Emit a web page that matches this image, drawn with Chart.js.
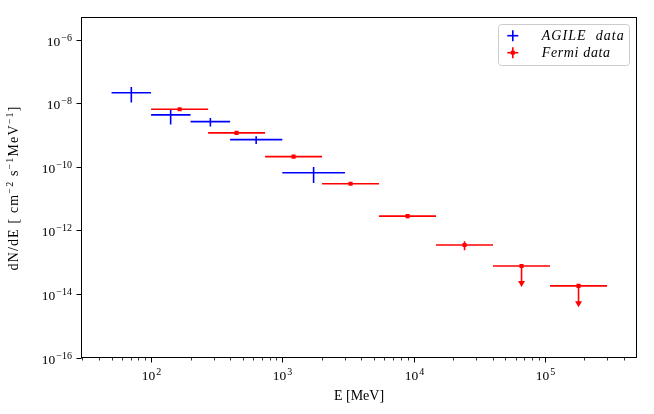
<!DOCTYPE html>
<html>
<head>
<meta charset="utf-8">
<script src="https://cdn.jsdelivr.net/npm/chart.js@4.4.1/dist/chart.umd.min.js"></script>
<style>
  body { margin: 0; background: #fff; }
  #wrap { width: 654px; height: 414px; }
</style>
</head>
<body>
<div id="wrap"><canvas id="sedChart" width="654" height="414"></canvas></div>
<script>
// AGILE points (MeV, cm^-2 s^-1 MeV^-1)
const agileE    = [70.7, 141, 283, 632, 1732];
const agileELo  = [50, 100, 200, 400, 1000];
const agileEHi  = [100, 200, 400, 1000, 3000];
const agileFlux = [2.15e-8, 4.3e-9, 2.65e-9, 7.2e-10, 6.5e-11];
const agileErr  = [1.1e-8, 2.15e-9, 0.8e-9, 2.0e-10, 3.4e-11];

// Fermi points, the last two are upper limits
const fermiE    = [165, 448, 1218, 3312, 9003, 24473, 66524, 180829];
const fermiELo  = [100, 272, 739, 2009, 5460, 14841, 40343, 109663];
const fermiEHi  = [272, 739, 2009, 5460, 14841, 40343, 109663, 298096];
const fermiFlux = [6.45e-9, 1.17e-9, 2.1e-10, 2.92e-11, 2.82e-12, 3.47e-13, 7.6e-14, 1.8e-14];
const fermiErr  = [0.4e-9, 0.08e-9, 0.12e-10, 0.2e-11, 0.4e-12, 1.1e-13, 0, 0];
const fermiLimitEnd = [null, null, null, null, null, null, 2.2e-14, 5.1e-15];

// axis ticks
const xTickValues = [1e2, 1e3, 1e4, 1e5];
const xTickExp    = ['2', '3', '4', '5'];
const yTickValues = [1e-16, 1e-14, 1e-12, 1e-10, 1e-8, 1e-6];
const yTickExp    = ['\u221216', '\u221214', '\u221212', '\u221210', '\u22128', '\u22126'];

const BLUE = '#0000ff';
const RED = '#ff0000';
const FAMILY = '"Liberation Serif", "DejaVu Serif", serif';

function seg(p, q, color) {
  return { data: [p, q], showLine: true, borderColor: color, borderWidth: 1.6,
           pointRadius: 0, pointHoverRadius: 0, fill: false, tension: 0 };
}

const datasets = [];
// markers first so they sit on top
datasets.push({
  label: 'Fermi data',
  data: fermiE.map((e, i) => ({ x: e, y: fermiFlux[i] })),
  pointStyle: 'rect', pointRadius: 2.9, pointBorderWidth: 0,
  backgroundColor: RED, borderColor: RED
});
datasets.push({
  label: 'AGILE data',
  data: agileE.map((e, i) => ({ x: e, y: agileFlux[i] })),
  pointRadius: 0, backgroundColor: BLUE, borderColor: BLUE
});

fermiE.forEach((e, i) => {
  const f = fermiFlux[i];
  datasets.push(seg({ x: fermiELo[i], y: f }, { x: fermiEHi[i], y: f }, RED));
  if (fermiLimitEnd[i]) {
    datasets.push({
      data: [{ x: e, y: f }, { x: e, y: fermiLimitEnd[i] }],
      showLine: true, borderColor: RED, borderWidth: 1.6,
      pointRadius: [0, 4], pointStyle: 'triangle', rotation: 180,
      pointBorderWidth: 0, backgroundColor: RED
    });
  } else if (fermiErr[i] > 0) {
    datasets.push(seg({ x: e, y: f - fermiErr[i] }, { x: e, y: f + fermiErr[i] }, RED));
  }
});

agileE.forEach((e, i) => {
  const f = agileFlux[i];
  datasets.push(seg({ x: agileELo[i], y: f }, { x: agileEHi[i], y: f }, BLUE));
  datasets.push(seg({ x: e, y: f - agileErr[i] }, { x: e, y: f + agileErr[i] }, BLUE));
});

// "10" with a raised exponent
function drawPow(ctx, exp, x, y, align) {
  const base = '13.5px ' + FAMILY, sup = '10px ' + FAMILY;
  ctx.font = base; const wb = ctx.measureText('10').width;
  ctx.font = sup;  const we = ctx.measureText(exp).width + 1;
  const x0 = align === 'right' ? x - wb - we : x - (wb + we) / 2;
  ctx.textAlign = 'left'; ctx.textBaseline = 'alphabetic';
  ctx.font = base; ctx.fillText('10', x0, y);
  ctx.font = sup;  ctx.fillText(exp, x0 + wb + 1, y - 5.5);
}

// text pieces with optional superscripts, stretched to a given length
function drawRich(ctx, parts, x, y, length) {
  const fonts = { n: '14px ' + FAMILY, s: '10px ' + FAMILY };
  ctx.letterSpacing = '0px';
  let nat = 0, chars = 0;
  parts.forEach(p => { ctx.font = fonts[p[1]]; nat += ctx.measureText(p[0]).width; chars += p[0].length; });
  const ls = Math.max(0, (length - nat) / chars);
  ctx.letterSpacing = ls + 'px';
  let cx = x;
  ctx.textAlign = 'left'; ctx.textBaseline = 'alphabetic';
  parts.forEach(p => {
    ctx.font = fonts[p[1]];
    ctx.fillText(p[0], cx, p[1] === 's' ? y - 5.5 : y);
    cx += ctx.measureText(p[0]).width;
  });
  ctx.letterSpacing = '0px';
}

const mplAxes = {
  id: 'mplAxes',
  afterDraw(chart) {
    const { ctx, chartArea: a, scales: { x, y } } = chart;
    ctx.save();
    ctx.strokeStyle = '#000';
    ctx.fillStyle = '#000';
    ctx.lineWidth = 1;
    ctx.strokeRect(a.left, a.top, a.right - a.left, a.bottom - a.top);

    const tick = (x1, y1, x2, y2, w) => {
      ctx.lineWidth = w; ctx.beginPath(); ctx.moveTo(x1, y1); ctx.lineTo(x2, y2); ctx.stroke();
    };
    // x minor ticks
    for (let d = 1; d <= 5; d++) {
      for (let m = 2; m <= 9; m++) {
        const v = m * Math.pow(10, d);
        if (v <= x.min || v >= x.max) continue;
        const px = Math.round(x.getPixelForValue(v)) + 0.5;
        tick(px, a.bottom, px, a.bottom + 3, 0.8);
      }
    }
    xTickValues.forEach((v, i) => {
      const px = Math.round(x.getPixelForValue(v)) + 0.5;
      tick(px, a.bottom, px, a.bottom + 5, 1);
      drawPow(ctx, xTickExp[i], px, 380, 'center');
    });
    yTickValues.forEach((v, i) => {
      const py = Math.round(y.getPixelForValue(v)) + 0.5;
      tick(a.left - 5, py, a.left, py, 1);
      drawPow(ctx, yTickExp[i], 72, py + 5.5, 'right');
    });

    // y title
    ctx.save();
    ctx.translate(18, (a.top + a.bottom) / 2 + 83);
    ctx.rotate(-Math.PI / 2);
    drawRich(ctx, [['dN/dE [ cm', 'n'], ['\u22122', 's'], [' s', 'n'], ['\u22121', 's'],
                   ['MeV', 'n'], ['\u22121', 's'], [']', 'n']], 0, 0, 165);
    ctx.restore();

    // legend
    const lx = 498.5, ly = 24.5, lw = 131, lh = 41;
    ctx.beginPath();
    ctx.roundRect(lx, ly, lw, lh, 3);
    ctx.fillStyle = 'rgba(255,255,255,0.8)';
    ctx.fill();
    ctx.strokeStyle = '#cccccc';
    ctx.lineWidth = 1;
    ctx.stroke();
    const rows = [
      { color: BLUE, text: 'AGILE  data', y: 35.7, width: 83, square: false },
      { color: RED, text: 'Fermi data', y: 52.7, width: 69, square: true }
    ];
    rows.forEach(r => {
      ctx.strokeStyle = r.color; ctx.fillStyle = r.color;
      tick(507.3, r.y, 518.3, r.y, 1.6);
      tick(512.8, r.y - 5.5, 512.8, r.y + 5.5, 1.6);
      if (r.square) ctx.fillRect(510.8, r.y - 2, 4, 4);
      ctx.fillStyle = '#000';
      ctx.font = 'italic 14px ' + FAMILY;
      ctx.letterSpacing = '0px';
      const nat = ctx.measureText(r.text).width;
      ctx.letterSpacing = Math.max(0, (r.width - nat) / r.text.length) + 'px';
      ctx.textAlign = 'left'; ctx.textBaseline = 'alphabetic';
      ctx.fillText(r.text, 541.7, r.y + 4.5);
      ctx.letterSpacing = '0px';
    });
    ctx.restore();
  }
};

new Chart(document.getElementById('sedChart'), {
  type: 'scatter',
  data: { datasets },
  options: {
    responsive: false,
    animation: false,
    events: [],
    layout: { padding: { top: 17.5, right: 17.5, left: 0, bottom: 0 } },
    plugins: { legend: { display: false }, tooltip: { enabled: false } },
    scales: {
      x: {
        type: 'logarithmic', min: 29.5, max: 5e5,
        ticks: { display: false }, grid: { display: false }, border: { display: false },
        title: { display: true, text: 'E [MeV]', color: '#000',
                 font: { family: FAMILY, size: 14 }, padding: { top: 0, bottom: 9.5 } },
        afterFit: s => { s.height = 56.5; }
      },
      y: {
        type: 'logarithmic', min: 1e-16, max: 5e-6,
        ticks: { display: false }, grid: { display: false }, border: { display: false },
        afterFit: s => { s.width = 81.5; }
      }
    }
  },
  plugins: [mplAxes]
});
</script>
</body>
</html>
